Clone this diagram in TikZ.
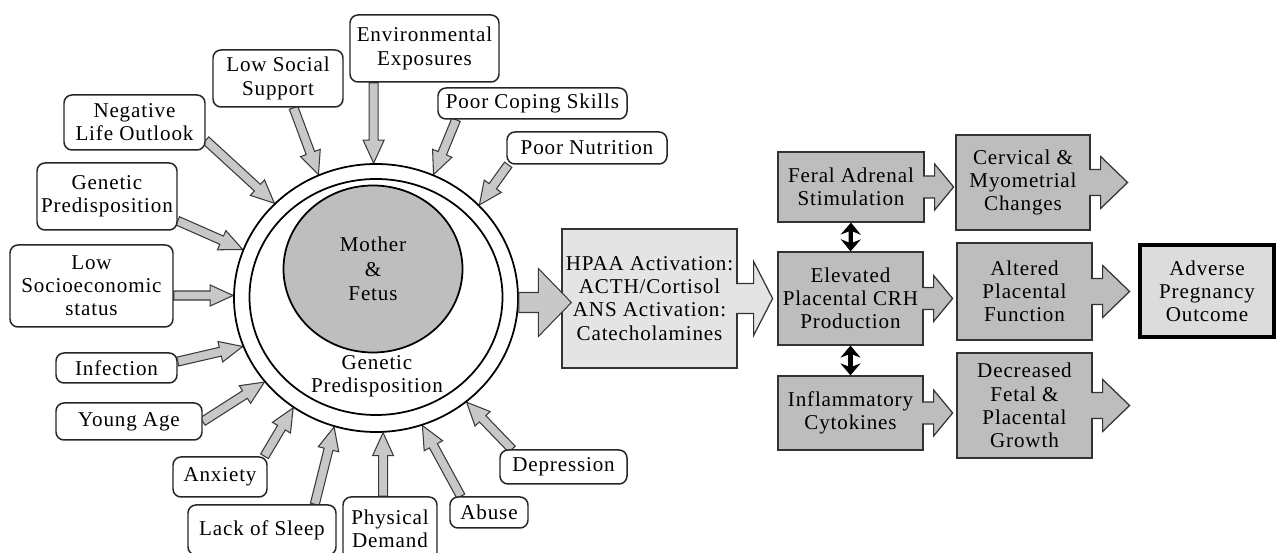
\documentclass[tikz,border=0pt]{standalone}
\usepackage{fontspec}
\setmainfont{Liberation Serif}[LetterSpace=4]
\usetikzlibrary{shapes.geometric,arrows.meta,calc,backgrounds}

\definecolor{arrgray}{HTML}{C8C8C8}
\definecolor{arrline}{HTML}{3A3A3A}
\definecolor{discgray}{HTML}{BEBEBE}
\definecolor{stagegray}{HTML}{BDBDBD}
\definecolor{hpaagray}{HTML}{E4E4E4}
\definecolor{outgray}{HTML}{DCDCDC}

% block arrow: shaft half width, head half width, head length, tail, tip
\newcommand{\fatarrow}[5]{%
  \coordinate (neck) at ($(#5)!#3!(#4)$);
  \path[fill=arrgray,draw=arrline,line width=0.6pt]
    ($(#4)!#1!90:(#5)$) -- ($(neck)!#1!90:(#5)$) -- ($(neck)!#2!90:(#5)$) -- (#5)
    -- ($(neck)!#2!-90:(#5)$) -- ($(neck)!#1!-90:(#5)$) -- ($(#4)!#1!-90:(#5)$) -- cycle;}
\newcommand{\inarrow}[2]{\fatarrow{0.09cm}{0.21cm}{0.46cm}{#1}{#2}}

% arrow tail on the right side of a box: node, fill, shaft, head, neck, tip (px)
\newcommand{\outarrow}[6]{%
  \path[fill=#2,draw=black!80,line width=0.7pt]
    ($(#1.east)+(-1.5,-#3)$) -- ($(#1.east)+(#5,-#3)$) -- ($(#1.east)+(#5,-#4)$)
    -- ($(#1.east)+(#6,0)$) -- ($(#1.east)+(#5,#4)$) -- ($(#1.east)+(#5,#3)$)
    -- ($(#1.east)+(-1.5,#3)$);}

\begin{document}
\begin{tikzpicture}[x=0.02cm,y=-0.02cm,
    font=\fontsize{12}{13.2}\selectfont,
    wh/.style 2 args={minimum width=#1*0.02cm,minimum height=#2*0.02cm},
    factor/.style={draw=black!85,line width=0.85pt,rounded corners=0.16cm,fill=white,align=center,inner sep=0pt},
    stage/.style={draw=black!80,line width=0.7pt,fill=stagegray,align=center,inner sep=0pt},
    ring/.style={ellipse,draw=black,line width=1pt,inner sep=0pt},
    dblarr/.style={line width=2.4pt,{Stealth[length=0.24cm,width=0.4cm]}-{Stealth[length=0.24cm,width=0.4cm]}}]

\clip (0,0) rectangle (1276,553);

% mother and fetus
\node[ring,wh={284}{268}] (outer) at (376,298) {};
\node[ring,wh={253}{236}] (inner) at (376,297) {};
\node[ring,fill=discgray,wh={179}{167},align=center,font=\fontsize{12}{13.8}\selectfont] (mofe) at (373,269) {Mother\\\&\\Fetus};
\node[align=center] (genin) at (377,376) {Genetic\\Predisposition};

% risk factors
\node[factor,wh={149}{67}] (envi) at (424.5,48.5) {Environmental\\Exposures};
\node[factor,wh={130}{57}] (lowsoc) at (278,78.5) {Low Social\\Support};
\node[factor,wh={141}{55}] (neglife) at (134.5,122.5) {Negative\\Life Outlook};
\node[factor,wh={140}{67}] (genleft) at (107,196.5) {Genetic\\Predisposition};
\node[factor,wh={163}{82}] (lowses) at (91.5,286) {Low\\Socioeconomic\\status};
\node[factor,wh={121}{30}] (infect) at (116.5,368) {Infection};
\node[factor,wh={146}{37}] (young) at (129,421.5) {Young Age};
\node[factor,wh={94}{40}] (anxiety) at (220,477) {Anxiety};
\node[factor,wh={148}{50}] (sleep) at (262,530) {Lack of Sleep};
\node[factor,wh={94}{64}] (physical) at (390,529) {Physical\\Demand};
\node[factor,wh={78}{31}] (abuse) at (489,512.5) {Abuse};
\node[factor,wh={127}{34}] (depress) at (563.5,467) {Depression};
\node[factor,wh={189}{31}] (coping) at (532.5,103.5) {Poor Coping Skills};
\node[factor,wh={160}{32}] (nutrition) at (587,148) {Poor Nutrition};

\coordinate (envitail) at (outer.91 |- envi.south);
\coordinate (sestail) at (lowses.east |- outer.179);
\coordinate (phystail) at (outer.273 |- physical.north);

\begin{pgfonlayer}{background}
\inarrow{envitail}{outer.91}
\inarrow{lowsoc.-62}{outer.115}
\inarrow{neglife.-14}{outer.137}
\inarrow{genleft.-19}{outer.160}
\inarrow{sestail}{outer.179}
\inarrow{infect.6}{outer.200}
\inarrow{young.east}{outer.217}
\inarrow{anxiety.25}{outer.233}
\inarrow{sleep.26}{outer.252}
\inarrow{phystail}{outer.273}
\inarrow{abuse.150}{outer.290}
\inarrow{depress.161}{outer.311}
\inarrow{coping.192}{outer.65}
\inarrow{nutrition.192}{outer.42}
\end{pgfonlayer}

% stress response
\node[stage,fill=hpaagray,wh={175}{139}] (hpaa) at (649.5,298.5) {HPAA Activation:\\ACTH/Cortisol\\ANS Activation:\\Catecholamines};
\outarrow{hpaa}{hpaagray}{15}{37}{16}{35}
\coordinate (hpaatip) at ($(hpaa.west)+(10,4)$);
\coordinate (bigtail) at (outer.east |- hpaatip);
\fatarrow{0.2cm}{0.68cm}{0.66cm}{bigtail}{hpaatip}

\node[stage,wh={146}{70}] (feral) at (851,187) {Feral Adrenal\\Stimulation};
\node[stage,wh={145}{93}] (crh) at (850.5,298.5) {Elevated\\Placental CRH\\Production};
\node[stage,wh={145}{74}] (cyto) at (850.5,413) {Inflammatory\\Cytokines};
\outarrow{feral}{stagegray}{11}{23}{10}{29}
\outarrow{crh}{stagegray}{11}{23}{10}{29}
\outarrow{cyto}{stagegray}{11}{23}{10}{29}
\draw[dblarr] (feral.south) -- (crh.north);
\draw[dblarr] (crh.south) -- (cyto.north);

\node[stage,wh={134}{95}] (cerv) at (1023,182.5) {Cervical \&\\Myometrial\\Changes};
\node[stage,wh={135}{97}] (placfn) at (1024.5,291.5) {Altered\\Placental\\Function};
\node[stage,wh={135}{105}] (growth) at (1024.5,405.5) {Decreased\\Fetal \&\\Placental\\Growth};
\outarrow{cerv}{stagegray}{13}{26}{10}{37}
\outarrow{placfn}{stagegray}{13}{26}{10}{37}
\outarrow{growth}{stagegray}{13}{26}{10}{37}

\node[stage,fill=outgray,draw=black,line width=2.3pt,wh={134}{92}] (outcome) at (1207,291) {Adverse\\Pregnancy\\Outcome};

\end{tikzpicture}
\end{document}
